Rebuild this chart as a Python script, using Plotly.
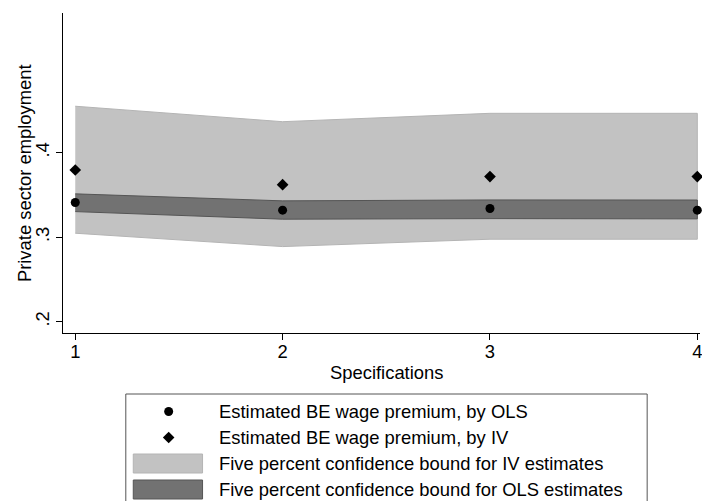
import plotly.graph_objects as go

# Specifications and estimated wage premia
specs = [1, 2, 3, 4]
ols_est = [0.341, 0.332, 0.334, 0.332]
iv_est = [0.3795, 0.3622, 0.3717, 0.3717]

# Five percent confidence bounds
iv_upper = [0.455, 0.4367, 0.4466, 0.4466]
iv_lower = [0.3047, 0.2889, 0.2976, 0.2976]
ols_upper = [0.3513, 0.343, 0.3441, 0.344]
ols_lower = [0.3303, 0.3213, 0.322, 0.3217]

y_tickvals = [0.2, 0.3, 0.4]
y_ticktext = [".2", ".3", ".4"]

legend_labels = [
    "Estimated BE wage premium, by OLS",
    "Estimated BE wage premium, by IV",
    "Five percent confidence bound for IV estimates",
    "Five percent confidence bound for OLS estimates",
]

LIGHT = "#c2c2c2"
LIGHT_EDGE = "#b4b4b4"
DARK = "#727272"
DARK_EDGE = "#555555"
FONT = "Liberation Sans, Arial, sans-serif"
FS = 18.4

W, H = 702, 501
ML, MR, MT, MB = 63, 0, 13, 168
PW, PH = W - ML - MR, H - MT - MB


def px(x):
    return (x - ML) / PW


def py(y):
    return (H - MB - y) / PH


def band(upper, lower, fill, edge):
    return go.Scatter(
        x=specs + specs[::-1],
        y=upper + lower[::-1],
        fill="toself",
        fillcolor=fill,
        mode="lines",
        line=dict(color=edge, width=1),
        hoverinfo="skip",
        showlegend=False,
    )


fig = go.Figure()
fig.add_trace(band(iv_upper, iv_lower, LIGHT, LIGHT_EDGE))
fig.add_trace(band(ols_upper, ols_lower, DARK, DARK_EDGE))
fig.add_trace(go.Scatter(
    x=specs, y=ols_est, mode="markers", showlegend=False, cliponaxis=False,
    marker=dict(symbol="circle", size=9, color="black"),
))
fig.add_trace(go.Scatter(
    x=specs, y=iv_est, mode="markers", showlegend=False, cliponaxis=False,
    marker=dict(symbol="diamond", size=9, color="black"),
))

# x range: 208 px per specification, y range: 845 px per unit
x0 = 1 - (75.3 - ML) / 208
x1 = x0 + PW / 208
y0 = 0.2 - (H - MB - 321.7) / 845
y1 = y0 + PH / 845

shapes = []
annotations = []

# Legend frame
shapes.append(dict(type="rect", xref="paper", yref="paper",
                   x0=px(126), x1=px(649), y0=py(520), y1=py(394),
                   line=dict(color="#555555", width=1), fillcolor="white"))

rows = [411.5, 437.5, 463.5, 489.5]
# Marker keys
r = 4.5
shapes.append(dict(type="circle", xref="paper", yref="paper",
                   x0=px(169 - r), x1=px(169 + r), y0=py(rows[0] + r), y1=py(rows[0] - r),
                   line=dict(width=0), fillcolor="black"))
d = 5.8
dpath = "M {},{} L {},{} L {},{} L {},{} Z".format(
    px(169 - d), py(rows[1]), px(169), py(rows[1] - d),
    px(169 + d), py(rows[1]), px(169), py(rows[1] + d))
shapes.append(dict(type="path", xref="paper", yref="paper", path=dpath,
                   line=dict(width=0), fillcolor="black"))
# Area keys
for row, fill, edge in [(rows[2], LIGHT, LIGHT_EDGE), (rows[3], DARK, DARK_EDGE)]:
    shapes.append(dict(type="rect", xref="paper", yref="paper",
                       x0=px(133.5), x1=px(203), y0=py(row + 9.5), y1=py(row - 9.5),
                       line=dict(color=edge, width=1), fillcolor=fill))

for row, label in zip(rows, legend_labels):
    annotations.append(dict(x=px(217), y=py(row), xref="paper", yref="paper",
                            text=label, showarrow=False, xanchor="left", yanchor="middle",
                            font=dict(family=FONT, size=FS, color="black")))

# Axis titles
annotations.append(dict(x=px(388), y=py(372), xref="paper", yref="paper",
                        text="Specifications", showarrow=False,
                        xanchor="center", yanchor="middle",
                        font=dict(family=FONT, size=FS, color="black")))
annotations.append(dict(x=px(24), y=py(173), xref="paper", yref="paper",
                        text="Private sector employment", showarrow=False, textangle=-90,
                        xanchor="center", yanchor="middle",
                        font=dict(family=FONT, size=FS, color="black")))

fig.update_layout(
    width=W, height=H,
    margin=dict(l=ML, r=MR, t=MT, b=MB),
    paper_bgcolor="white", plot_bgcolor="white",
    font=dict(family=FONT, size=FS, color="black"),
    shapes=shapes, annotations=annotations,
    showlegend=False,
)
fig.update_xaxes(
    range=[x0, x1], tickvals=specs, ticks="outside", ticklen=6, tickcolor="black",
    ticklabeloverflow="allow", ticklabelstandoff=-4,
    showline=True, linecolor="black", linewidth=1, showgrid=False, zeroline=False,
    tickfont=dict(family=FONT, size=FS, color="black"),
)
fig.update_yaxes(
    range=[y0, y1], tickvals=y_tickvals, ticktext=y_ticktext, tickangle=-90,
    ticks="outside", ticklen=6, tickcolor="black",
    showline=True, linecolor="black", linewidth=1, showgrid=False, zeroline=False,
    tickfont=dict(family=FONT, size=FS, color="black"),
)

fig.write_html("out.html")
